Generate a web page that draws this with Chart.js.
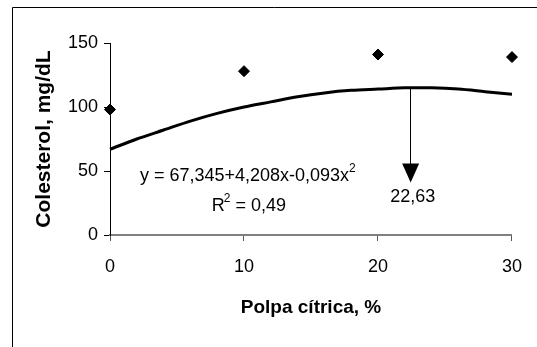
<!DOCTYPE html>
<html lang="pt">
<head>
  <meta charset="UTF-8" />
  <title>Colesterol x Polpa cítrica</title>
  <script src="https://cdn.jsdelivr.net/npm/chart.js"></script>
  <style>
    body { margin: 0; background: #fff; }
    #wrap { width: 537px; height: 347px; }
  </style>
</head>
<body>
  <div id="wrap"><canvas id="grafico" width="537" height="347"></canvas></div>
  <script>
    // Dados observados (médias)
    const niveis = [0, 10, 20, 30];
    const colesterol = [98, 128, 141, 139];

    // Curva de regressão
    const curvaX = [0, 2, 4, 6, 8, 10, 12, 14, 16, 18, 20, 22, 24, 26, 28, 30];
    const curvaY = [67, 75, 82, 89, 95, 100, 104, 108, 111, 113, 114, 115, 115, 114, 112, 110];

    // Seta no ponto de máximo
    const seta = { x: 22.4, topo: 115, ponta: 41 };
    const rotuloSeta = '22,63';

    const ticksX = [0, 10, 20, 30];
    const ticksY = [0, 50, 100, 150];

    const fonte = '"Liberation Sans", Arial, sans-serif';

    // desenha moldura, seta e textos da equação
    const extras = {
      id: 'extras',
      afterDraw(chart) {
        const ctx = chart.ctx;
        const sx = chart.scales.x, sy = chart.scales.y;
        ctx.save();
        // moldura (só esquerda e topo visíveis)
        ctx.strokeStyle = '#000';
        ctx.lineWidth = 1;
        ctx.beginPath();
        ctx.moveTo(12.5, 347);
        ctx.lineTo(12.5, 7.5);
        ctx.lineTo(537, 7.5);
        ctx.stroke();

        // seta
        const ax = sx.getPixelForValue(seta.x);
        const y1 = sy.getPixelForValue(seta.topo);
        const y2 = sy.getPixelForValue(seta.ponta);
        ctx.beginPath();
        ctx.moveTo(Math.round(ax) + 0.5, y1);
        ctx.lineTo(Math.round(ax) + 0.5, y2 - 18);
        ctx.stroke();
        ctx.fillStyle = '#000';
        ctx.beginPath();
        ctx.moveTo(ax - 8, y2 - 19);
        ctx.lineTo(ax + 9, y2 - 19);
        ctx.lineTo(ax + 0.5, y2);
        ctx.closePath();
        ctx.fill();

        // textos
        const tam = 18, sup = 12;
        ctx.font = tam + 'px ' + fonte;
        ctx.textBaseline = 'middle';
        ctx.textAlign = 'left';
        const eq = 'y = 67,345+4,208x-0,093x';
        const ex = sx.getPixelForValue(10.3), ey = sy.getPixelForValue(46);
        const w = ctx.measureText(eq).width;
        let x0 = ex - (w + 7) / 2;
        ctx.fillText(eq, x0, ey);
        ctx.font = sup + 'px ' + fonte;
        ctx.fillText('2', x0 + w, ey - 7);

        ctx.font = tam + 'px ' + fonte;
        const rx = sx.getPixelForValue(10.4), ry = sy.getPixelForValue(23);
        const resto = ' = 0,49';
        const wR = ctx.measureText('R').width;
        const wRest = ctx.measureText(resto).width;
        ctx.font = sup + 'px ' + fonte;
        const w2 = ctx.measureText('2').width;
        x0 = rx - (wR + w2 + wRest) / 2;
        ctx.font = tam + 'px ' + fonte;
        ctx.fillText('R', x0, ry);
        ctx.font = sup + 'px ' + fonte;
        ctx.fillText('2', x0 + wR - 1, ry - 7);
        ctx.font = tam + 'px ' + fonte;
        ctx.fillText(resto, x0 + wR + w2 - 1, ry);

        ctx.textAlign = 'center';
        ctx.fillText(rotuloSeta, sx.getPixelForValue(22.6), sy.getPixelForValue(30));
        ctx.restore();
      }
    };

    new Chart(document.getElementById('grafico'), {
      type: 'scatter',
      data: {
        datasets: [
          {
            label: 'Colesterol',
            data: niveis.map((x, i) => ({ x: x, y: colesterol[i] })),
            pointStyle: 'rectRot',
            pointRadius: 5.5,
            backgroundColor: '#000',
            borderColor: '#000',
            showLine: false,
            clip: false
          },
          {
            label: 'Regressão',
            data: curvaX.map((x, i) => ({ x: x, y: curvaY[i] })),
            showLine: true,
            borderColor: '#000',
            borderWidth: 3,
            pointRadius: 0,
            tension: 0.3,
            fill: false,
            clip: false
          }
        ]
      },
      options: {
        responsive: false,
        animation: false,
        layout: { padding: { left: 29, right: 15, top: 43, bottom: 22 } },
        plugins: { legend: { display: false }, tooltip: { enabled: false } },
        scales: {
          x: {
            type: 'linear',
            min: 0, max: 30,
            afterBuildTicks: s => { s.ticks = ticksX.map(v => ({ value: v })); },
            afterFit: s => { s.height = 90; },
            grid: { drawOnChartArea: false, drawTicks: true, tickLength: 6, color: '#555' },
            border: { color: '#808080', width: 2 },
            ticks: { color: '#000', font: { family: fonte, size: 18 }, padding: 15, maxRotation: 0 },
            title: {
              display: true, text: 'Polpa cítrica, %', color: '#000',
              font: { family: fonte, size: 19, weight: 'bold' }, padding: { bottom: 6 }
            }
          },
          y: {
            min: 0, max: 150,
            afterBuildTicks: s => { s.ticks = ticksY.map(v => ({ value: v })); },
            afterFit: s => { s.width = 81; },
            grid: { drawOnChartArea: false, drawTicks: true, tickLength: 6, color: '#000' },
            border: { color: '#000', width: 1 },
            ticks: { color: '#000', font: { family: fonte, size: 18 }, padding: 6 },
            title: {
              display: true, text: 'Colesterol, mg/dL', color: '#000',
              font: { family: fonte, size: 21, weight: 'bold' }, padding: { top: 3 }
            }
          }
        }
      },
      plugins: [extras]
    });
  </script>
</body>
</html>
